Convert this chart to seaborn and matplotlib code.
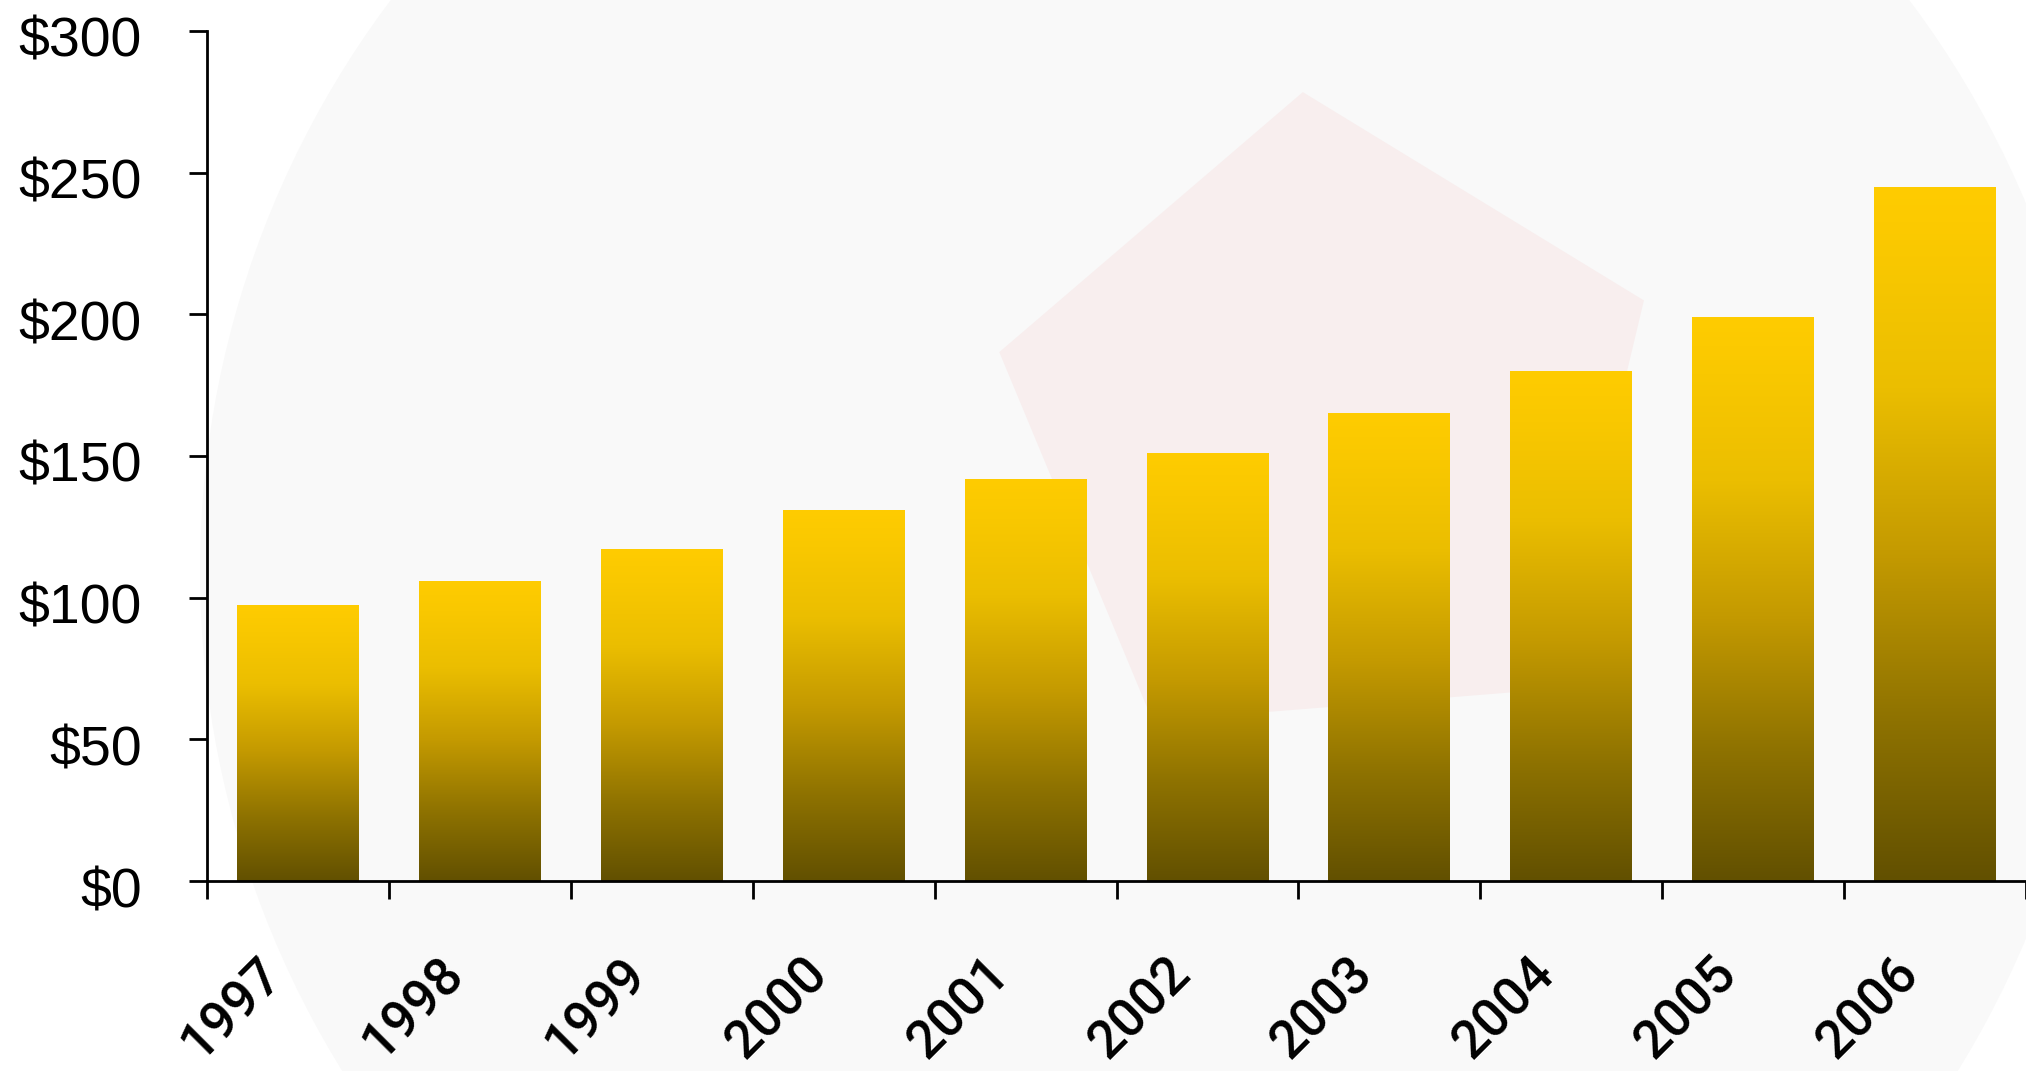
import numpy as np
import pandas as pd
import matplotlib
matplotlib.use("Agg")
import matplotlib.pyplot as plt
import seaborn as sns
from matplotlib.colors import LinearSegmentedColormap
from matplotlib.patches import Circle, RegularPolygon
from matplotlib.transforms import ScaledTranslation

# data
years = ["1997", "1998", "1999", "2000", "2001", "2002", "2003", "2004", "2005", "2006"]
values = [97.5, 106, 117, 131, 142, 151, 165, 180, 199, 245]
y_ticks = [0, 50, 100, 150, 200, 250, 300]
y_labels = ["$0", "$50", "$100", "$150", "$200", "$250", "$300"]

df = pd.DataFrame({"year": years, "value": values})

sns.set_style("white")
plt.rcParams["font.family"] = ["Liberation Sans", "DejaVu Sans"]
plt.rcParams["text.color"] = "black"
plt.rcParams["xtick.color"] = "black"
plt.rcParams["ytick.color"] = "black"

fig = plt.figure(figsize=(20.26, 10.71), dpi=100)
fig.patch.set_facecolor("white")

# faint watermark behind the chart (inches)
fig.patches.append(Circle((11.5, 5.0), 9.5, transform=fig.dpi_scale_trans,
                          facecolor="#f9f9f9", edgecolor="none", zorder=-10))
fig.patches.append(RegularPolygon((13.3, 6.4), 5, radius=3.4, orientation=0.08,
                                  transform=fig.dpi_scale_trans, facecolor="#f8eeee",
                                  edgecolor="none", zorder=-9))

ax = fig.add_axes([0.1022, 0.1774, 0.8978, 0.7937])
ax.patch.set_alpha(0)

sns.barplot(data=df, x="year", y="value", color="#ffcc00", width=0.67, ax=ax)

# vertical gold gradient in every bar
gold = LinearSegmentedColormap.from_list(
    "gold", [(0.0, "#625000"), (0.23, "#8e7200"), (0.47, "#c49a00"),
             (0.71, "#ebbe00"), (0.9, "#f9c800"), (1.0, "#ffcc00")])
grad = np.linspace(0, 1, 256).reshape(-1, 1)
for bar in ax.patches:
    x0, y0 = bar.get_x(), bar.get_y()
    w, h = bar.get_width(), bar.get_height()
    bar.set_facecolor("none")
    bar.set_edgecolor("none")
    im = ax.imshow(grad, cmap=gold, origin="lower", aspect="auto",
                   extent=[x0, x0 + w, y0, y0 + h], zorder=2)
    im.set_clip_path(bar)

ax.set_xlim(-0.5, len(years) - 0.5)
ax.set_ylim(0, 300)
ax.set_xlabel("")
ax.set_ylabel("")

ax.set_yticks(y_ticks)
ax.set_yticklabels(y_labels, fontsize=40)
ax.tick_params(axis="y", left=True, direction="out", length=13, width=2, pad=34, color="black")
down = ScaledTranslation(0, -0.06, fig.dpi_scale_trans)
for lab in ax.get_yticklabels():
    lab.set_transform(lab.get_transform() + down)

# labels centred on bars, tick marks between bars
ax.set_xticks(range(len(years)))
ax.set_xticklabels(years, fontsize=38, rotation=45, ha="right", va="top",
                   rotation_mode="anchor", family=["Roboto", "DejaVu Sans"],
                   fontweight="medium")
ax.set_xticks(np.arange(-0.5, len(years), 1.0), minor=True)
ax.tick_params(axis="x", which="major", bottom=True, length=0, pad=48)
ax.tick_params(axis="x", which="minor", bottom=True, direction="out", length=13,
               width=2, color="black")
offset = ScaledTranslation(-0.42, 0, fig.dpi_scale_trans)
for lab in ax.get_xticklabels():
    lab.set_transform(lab.get_transform() + offset)

for side in ["top", "right"]:
    ax.spines[side].set_visible(False)
for side in ["left", "bottom"]:
    ax.spines[side].set_linewidth(2)
    ax.spines[side].set_color("black")

fig.savefig("out.png", dpi=100)
